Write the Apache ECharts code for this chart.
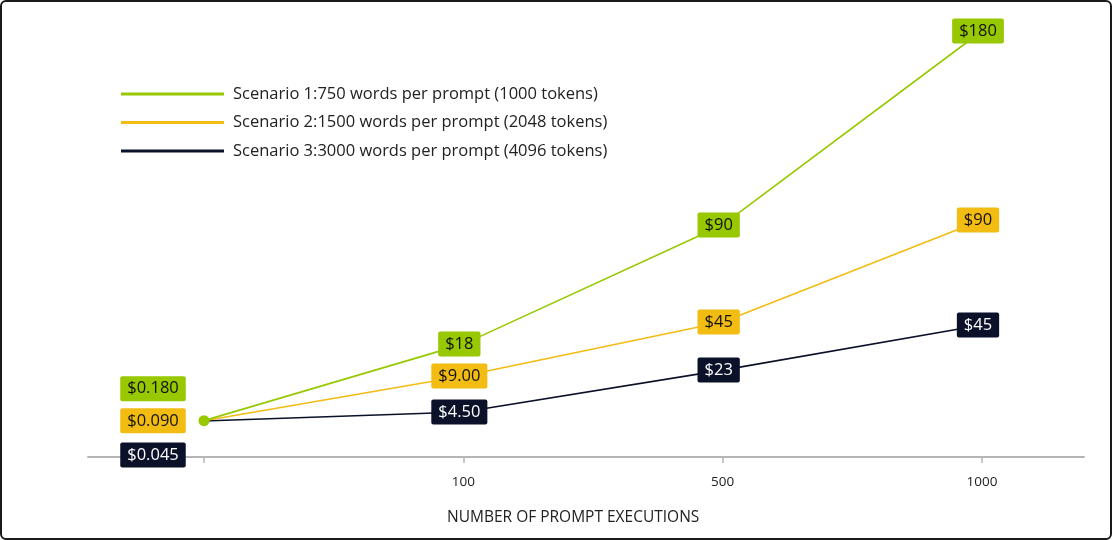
<!DOCTYPE html>
<html lang="en">
<head>
    <meta charset="utf-8">
    <title>Prompt execution cost</title>
    <style>
        html, body { margin: 0; padding: 0; background: #fff; }
        #wrap { position: relative; width: 1112px; height: 540px; }
        #cost-chart { width: 1112px; height: 540px; }
        #frame {
            position: absolute; left: 0; top: 0; right: 0; bottom: 0;
            border: 2px solid #1a1a1a;
            border-radius: 6px;
            pointer-events: none;
        }
    </style>
</head>
<body>
<div id="wrap">
    <div id="cost-chart"></div>
    <div id="frame"></div>
</div>
<script src="https://cdn.jsdelivr.net/npm/echarts@6.0.0/dist/echarts.min.js"></script>
<script type="text/javascript">

// number of prompt executions (first one has no printed tick label)
var executions = ['1', '100', '500', '1000'];

var scenarioNames = [
    'Scenario 1:750 words per prompt (1000 tokens)',
    'Scenario 2:1500 words per prompt (2048 tokens)',
    'Scenario 3:3000 words per prompt (4096 tokens)'
];

// height of each point as drawn (dollar scale)
var scenario1 = [0.18, 35.5, 90.5, 180];
var scenario2 = [0.09, 20.8, 45.7, 92.8];
var scenario3 = [0.045, 4.2, 23.5, 44.3];

// printed cost labels
var scenario1Labels = ['$0.180', '$18', '$90', '$180'];
var scenario2Labels = ['$0.090', '$9.00', '$45', '$90'];
var scenario3Labels = ['$0.045', '$4.50', '$23', '$45'];

var colors = ['#97c800', '#f2bc12', '#0a1128'];
var textColors = ['#111', '#111', '#fff'];
var firstOffsets = [[-51, -32], [-51, 0], [-51, 34]];
var FONT = 'Open Sans';

function makeSeries(idx, values, labels) {
    var data = values.map(function (v, i) {
        var item = {
            value: v,
            label: {
                show: true,
                position: 'inside',
                offset: i === 0 ? firstOffsets[idx] : [-4, 0],
                formatter: labels[i]
            }
        };
        if (idx === 0 && i === 0) {
            item.symbol = 'circle';
            item.symbolSize = 11;
        }
        return item;
    });
    return {
        name: scenarioNames[idx],
        type: 'line',
        xAxisIndex: 0,
        yAxisIndex: 0,
        symbol: 'circle',
        symbolSize: 0,
        showSymbol: true,
        color: colors[idx],
        lineStyle: { width: 1.6, color: colors[idx] },
        itemStyle: { color: colors[idx] },
        label: {
            backgroundColor: colors[idx],
            color: textColors[idx],
            fontFamily: FONT,
            fontSize: 16.5,
            lineHeight: 17,
            padding: [4, 7, 4, 7],
            borderRadius: 2
        },
        emphasis: { disabled: true },
        animation: false,
        data: data
    };
}

var chart = echarts.init(document.getElementById('cost-chart'));
var option = {
    animation: false,
    title: {
        text: 'NUMBER OF PROMPT EXECUTIONS',
        left: 447,
        top: 507,
        padding: 0,
        textStyle: { fontFamily: FONT, fontSize: 15.5, fontWeight: 'normal', color: '#222', lineHeight: 21 }
    },
    legend: {
        orient: 'vertical',
        left: 121,
        top: 84,
        padding: 0,
        itemWidth: 103,
        itemHeight: 3,
        itemGap: 8.5,
        icon: 'rect',
        data: scenarioNames,
        textStyle: { fontFamily: FONT, fontSize: 16.5, color: '#222', lineHeight: 20, padding: [0, 0, 0, 4] }
    },
    grid: [
        { left: 204, right: 130, top: 31, bottom: 83 },
        { left: 88, right: 28, top: 31, bottom: 83 }
    ],
    xAxis: [{
        type: 'category',
        gridIndex: 0,
        boundaryGap: false,
        data: executions,
        axisLine: { show: false, onZero: false },
        axisTick: { show: true, length: 6, alignWithLabel: true, lineStyle: { color: '#b5b5b5', width: 1.5 } },
        axisLabel: {
            margin: 18,
            fontFamily: FONT,
            fontSize: 13.5,
            color: '#222',
            formatter: function (v, i) { return i === 0 ? '' : v; }
        },
        splitLine: { show: false }
    }, {
        type: 'value',
        gridIndex: 1,
        min: 0,
        max: 1,
        axisLine: { show: true, onZero: false, lineStyle: { color: '#b5b5b5', width: 2 } },
        axisTick: { show: false },
        axisLabel: { show: false },
        splitLine: { show: false }
    }],
    yAxis: [{
        type: 'value',
        gridIndex: 0,
        min: -16.6,
        max: 180,
        show: false,
        splitLine: { show: false }
    }, {
        type: 'value',
        gridIndex: 1,
        show: false,
        splitLine: { show: false }
    }],
    series: [
        makeSeries(2, scenario3, scenario3Labels),
        makeSeries(1, scenario2, scenario2Labels),
        makeSeries(0, scenario1, scenario1Labels)
    ]
};
chart.setOption(option);

</script>
</body>
</html>
